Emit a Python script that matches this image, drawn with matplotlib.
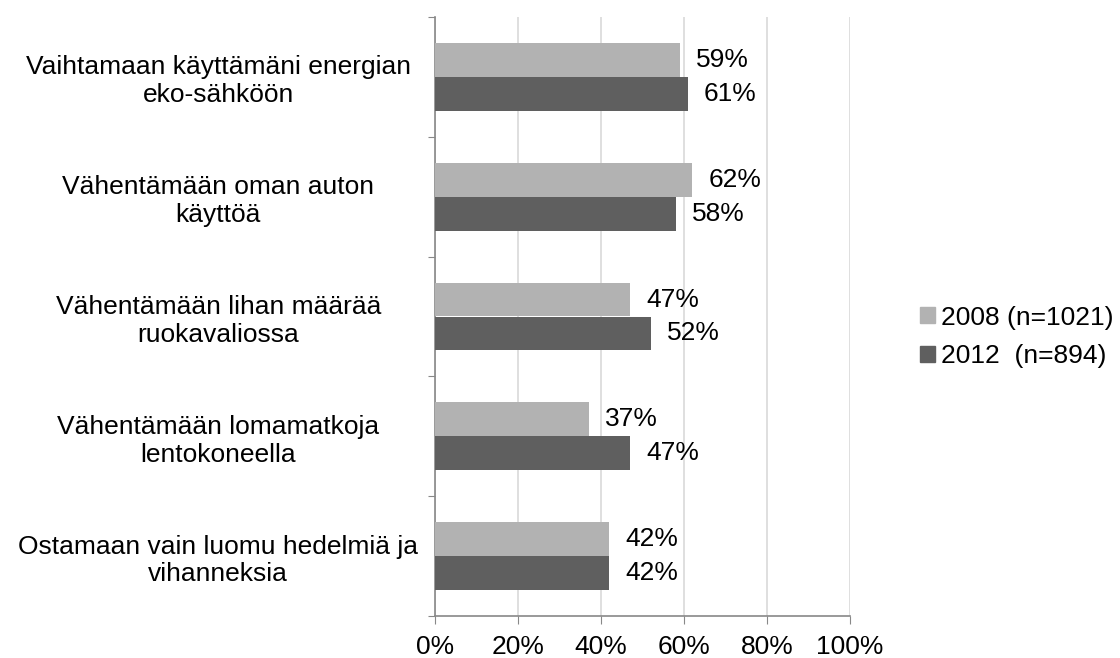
import matplotlib
matplotlib.use("Agg")
import matplotlib.pyplot as plt
import numpy as np
from matplotlib.patches import Patch

plt.rcParams['font.family'] = ['Liberation Sans', 'DejaVu Sans']

categories = [
    "Vaihtamaan käyttämäni energian\neko-sähköön",
    "Vähentämään oman auton\nkäyttöä",
    "Vähentämään lihan määrää\nruokavaliossa",
    "Vähentämään lomamatkoja\nlentokoneella",
    "Ostamaan vain luomu hedelmiä ja\nvihanneksia",
]
values_2008 = [59, 62, 47, 37, 42]
values_2012 = [61, 58, 52, 47, 42]
series_labels = ["2008 (n=1021)", "2012  (n=894)"]
xticks = [0, 20, 40, 60, 80, 100]

c_light = "#B2B2B2"
c_dark = "#5F5F5F"
FS = 19

fig = plt.figure(figsize=(11.2, 6.58), dpi=100)
ax = fig.add_axes([435/1120, 42/658, 415/1120, 599/658])

n = len(categories)
y = np.arange(n)
h = 0.283
ax.barh(y - h/2, values_2008, height=h, color=c_light, zorder=3)
ax.barh(y + h/2, values_2012, height=h, color=c_dark, zorder=3)

for yi, v in zip(y, values_2008):
    ax.annotate(f"{v}%", (v, yi - h/2), xytext=(11.5, 0), textcoords="offset points",
                va="center", ha="left", fontsize=FS)
for yi, v in zip(y, values_2012):
    ax.annotate(f"{v}%", (v, yi + h/2), xytext=(11.5, 0), textcoords="offset points",
                va="center", ha="left", fontsize=FS)

ax.set_ylim(n - 0.5, -0.5)
ax.set_xlim(0, 100)
ax.set_xticks(xticks)
ax.set_xticklabels([f"{t}%" for t in xticks], fontsize=FS)
ax.set_yticks(np.arange(n + 1) - 0.5)
ax.set_yticklabels([])
ax.set_yticks(y, minor=True)
ax.set_yticklabels(categories, minor=True, fontsize=FS, ha="center")
ax.tick_params(axis="y", which="minor", length=0, pad=156)
ax.tick_params(axis="y", which="major", length=5, color="#888888", direction="out")
ax.tick_params(axis="x", length=6, color="#888888", direction="out", pad=8)

ax.grid(axis="x", color="#D9D9D9", linewidth=1.2, zorder=0)
for s in ["top", "right"]:
    ax.spines[s].set_visible(False)
for s in ["left", "bottom"]:
    ax.spines[s].set_color("#888888")
    ax.spines[s].set_linewidth(1.2)

handles = [Patch(color=c_light), Patch(color=c_dark)]
fig.legend(handles, series_labels, loc="center left", bbox_to_anchor=(920/1120, 1 - 337/658),
           frameon=False, fontsize=FS, handlelength=0.55, handleheight=0.55,
           handletextpad=0.25, labelspacing=0.55, borderaxespad=0, borderpad=0)

fig.savefig("out.png", dpi=100)
